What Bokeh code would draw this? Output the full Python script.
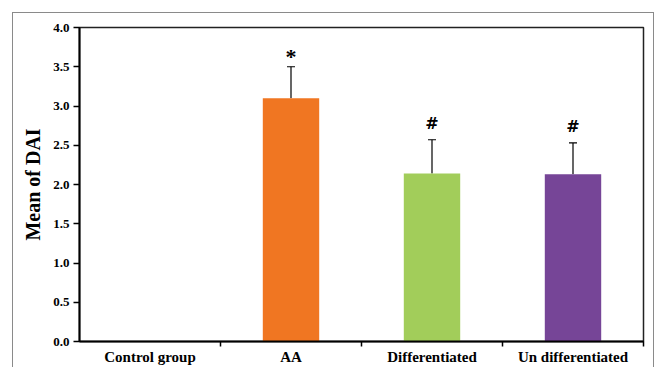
from bokeh.plotting import figure
from bokeh.layouts import column
from bokeh.models import Range1d, FixedTicker, Whisker, TeeHead, ColumnDataSource
from bokeh.core.properties import value
from bokeh.embed import file_html
from bokeh.resources import INLINE

categories = ["Control group", "AA", "Differentiated", "Un differentiated"]
means = [0.0, 3.10, 2.14, 2.13]
errors = [0.0, 0.40, 0.43, 0.40]
marks = ["", "*", "#", "#"]
colors = ["#FFFFFF", "#F07622", "#A2CD5A", "#764597"]
y_ticks = [0.0, 0.5, 1.0, 1.5, 2.0, 2.5, 3.0, 3.5, 4.0]

x = [i + 0.5 for i in range(len(categories))]
upper = [m + e for m, e in zip(means, errors)]

src = ColumnDataSource(dict(x=x, top=means, color=colors))
err_src = ColumnDataSource(dict(x=x[1:], lower=means[1:], upper=upper[1:]))
star_src = ColumnDataSource(dict(
    x=[xi for xi, m in zip(x, marks) if m == "*"],
    y=[u for u, m in zip(upper, marks) if m == "*"],
    t=[m for m in marks if m == "*"]))
hash_src = ColumnDataSource(dict(
    x=[xi for xi, m in zip(x, marks) if m == "#"],
    y=[u for u, m in zip(upper, marks) if m == "#"],
    t=[m for m in marks if m == "#"]))

FONT = "Liberation Serif"

p = figure(width=640, height=354, output_backend="svg", toolbar_location=None,
           x_range=Range1d(0, len(categories)), y_range=Range1d(0, 4.0),
           min_border_left=66, min_border_right=10, min_border_top=14, min_border_bottom=20)

p.vbar(x="x", top="top", width=0.4, bottom=0, fill_color="color", line_color=None, source=src)

w = Whisker(base="x", lower="lower", upper="upper", source=err_src, dimension="height",
            line_color="black", line_width=1.2,
            upper_head=TeeHead(size=8, line_color="black", line_width=1.2), lower_head=None)
p.add_layout(w)

p.text(x="x", y="y", text="t", source=star_src, text_align="center",
       text_baseline="alphabetic", y_offset=-10, text_font=value(FONT),
       text_font_style="bold", text_font_size="22px", text_color="black")
p.text(x="x", y="y", text="t", source=hash_src, text_align="center",
       text_baseline="alphabetic", y_offset=-16, text_font=value("DejaVu Sans"),
       text_font_style="bold", text_font_size="16px", text_color="black")

p.grid.visible = False
p.outline_line_color = "#222222"
p.outline_line_width = 1.5
p.background_fill_color = "white"
p.border_fill_color = "white"

# y axis
p.yaxis.ticker = FixedTicker(ticks=y_ticks)
p.yaxis.major_label_overrides = {t: f"{t:.1f}" for t in y_ticks}
p.yaxis.axis_label = "Mean of DAI"
p.yaxis.axis_label_text_font = FONT
p.yaxis.axis_label_text_font_style = "bold"
p.yaxis.axis_label_text_font_size = "20px"
p.yaxis.axis_label_text_color = "black"
p.yaxis.axis_label_standoff = 6
p.yaxis.major_label_text_font = FONT
p.yaxis.major_label_text_font_style = "bold"
p.yaxis.major_label_text_font_size = "13px"
p.yaxis.major_label_text_color = "black"
p.yaxis.major_label_standoff = 4
p.yaxis.axis_line_color = "black"
p.yaxis.axis_line_width = 2
p.yaxis.major_tick_out = 6
p.yaxis.major_tick_in = 0
p.yaxis.major_tick_line_color = "black"
p.yaxis.major_tick_line_width = 1.5
p.yaxis.minor_tick_line_color = None

# x axis: labels at category centres, ticks at category boundaries
p.xaxis.ticker = FixedTicker(ticks=x, minor_ticks=list(range(1, len(categories) + 1)))
p.xaxis.major_label_overrides = {xi: c for xi, c in zip(x, categories)}
p.xaxis.major_label_text_font = FONT
p.xaxis.major_label_text_font_style = "bold"
p.xaxis.major_label_text_font_size = "15px"
p.xaxis.major_label_text_color = "black"
p.xaxis.major_label_standoff = 1
p.xaxis.major_tick_line_color = None
p.xaxis.minor_tick_out = 5
p.xaxis.minor_tick_in = 0
p.xaxis.minor_tick_line_color = "black"
p.xaxis.minor_tick_line_width = 1.5
p.xaxis.axis_line_color = "black"
p.xaxis.axis_line_width = 2

layout = column(p, margin=(12, 0, 0, 12),
                styles={"border": "1px solid #8a8a8a", "background-color": "white"})

open("out.html", "w").write(file_html(layout, INLINE))
